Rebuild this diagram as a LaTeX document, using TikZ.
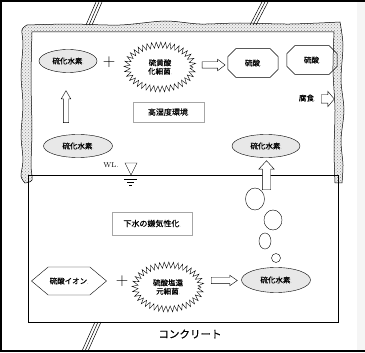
\documentclass[tikz,border=0pt]{standalone}
\usepackage{fontspec}
\newfontfamily\jp{Noto Sans CJK JP}[FakeBold=0.6]
\usepackage{tikz}
\usetikzlibrary{shapes.geometric,shapes.misc,shapes.symbols,shapes.arrows,decorations.pathmorphing,patterns}
\newcommand{\pmk}{{\color{gray!60}\fontsize{4}{4}\selectfont.}}

\begin{document}
\begin{tikzpicture}[x=1pt, y=-1pt,
  lab/.style={font=\jp\fontsize{7.5}{8.5}\selectfont, inner sep=1pt},
  gas/.style={lab, ellipse, draw, fill=gray!18, minimum height=23pt},
  acid/.style={lab, chamfered rectangle, draw, inner xsep=12pt, inner ysep=8pt, chamfered rectangle xsep=5pt},
  ion/.style={lab, signal, draw, signal to=west and east, signal pointer angle=80, minimum width=75pt, minimum height=28pt},
  bact/.style={lab, ellipse, draw, decorate, decoration={zigzag, segment length=4.4pt, amplitude=3pt}, minimum width=66pt, minimum height=44pt, align=center},
  note/.style={font=\jp\fontsize{8}{9}\selectfont, draw=gray!70, minimum height=20pt},
  blk/.style={single arrow, draw, fill=white},
  bub/.style={ellipse, draw, inner sep=0pt},
  plus/.style={font=\fontsize{17}{17}\selectfont, inner sep=0pt}
]
\useasboundingbox (0,0) rectangle (365,353);
% frame
\fill[gray!8] (357,2) rectangle (365,350);
\draw[line width=2pt] (0,1) -- (365,1) (1,0) -- (1,352) (0,351) -- (365,351);

% corroded layer
\draw[preaction={fill=gray!12}, pattern=crosshatch dots, pattern color=gray!90, line width=0.5pt]
  plot[smooth] coordinates {(25,183) (21,176) (23,160) (21,135) (23,105) (21,75) (23,45) (22,30) (27,25)}
  -- plot[smooth] coordinates {(27,25) (70,24) (120,25) (165,21) (200,24) (240,23) (290,24) (340,22)}
  -- plot[smooth] coordinates {(340,22) (343,45) (341,80) (344,110) (341,140) (343,165) (342,183)}
  -- (335,183)
  -- plot[smooth] coordinates {(335,183) (334,150) (335,110) (333,70) (334,32)}
  -- (32,32)
  -- plot[smooth] coordinates {(32,32) (31,80) (32,130) (31,165) (32,180) (25,183)}
  -- cycle;

% sewage
\draw (28,175) rectangle (338,322);

% break marks
\foreach \i in {0,1,2} {
  \draw[line width=0.5pt] (86+\i*3,25) -- (96+\i*3,2);
  \draw[line width=0.5pt] (250+\i*3,25) -- (262+\i*3,2);
  \draw[line width=0.5pt] (95+\i*3,322) -- (82+\i*3,351);
}

% upper space
\node[gas, minimum width=58pt] (h2s1) at (68,61) {硫化水素\pmk};
\node[plus] (plus1) at (109,62) {$+$};
\node[bact] (sob) at (160,67) {硫黄酸\\化細菌\pmk};
\node[blk, inner sep=3pt, minimum height=23pt, single arrow head extend=2.5pt, single arrow tip angle=75] (arr1) at (211.5,65) {};
\node[acid] (acid1) at (253,63) {硫酸\pmk};
\node[acid] (acid2) at (312,60) {硫酸\pmk};
\node[lab] (corr) at (307,98) {腐食\pmk};
\node[blk, inner sep=4pt, minimum height=13pt, single arrow head extend=3.5pt, single arrow tip angle=100] (arr2) at (326,99) {};
\node[note, minimum width=71pt] (humid) at (168.5,112) {高湿度環境\pmk};
\node[blk, shape border rotate=90, inner sep=2.5pt, minimum height=32pt, single arrow head extend=2pt, single arrow tip angle=60] (arr3) at (66,109) {};
\node[gas, minimum width=69pt] (h2s2) at (78,146) {硫化水素\pmk};
\node[gas, minimum width=68pt] (h2s3) at (266,146) {硫化水素\pmk};

% water level
\node[font=\fontsize{7}{7}\selectfont, inner sep=0pt] (wl) at (111,165) {WL.};
\draw (125,163) -- (137,163) -- (131,175) -- cycle;
\draw (124,179) -- (137,179) (127,182) -- (134,182) (129,185) -- (132,185);

% lower space
\node[blk, shape border rotate=90, inner sep=4pt, minimum height=29pt, single arrow head extend=3.5pt, single arrow tip angle=85] (arr4) at (266.5,177.5) {};
\node[bub, minimum width=19pt, minimum height=22pt] (bub1) at (255,199) {};
\node[bub, minimum width=18pt, minimum height=20pt] (bub2) at (273,220) {};
\node[bub, minimum width=12pt, minimum height=16pt] (bub3) at (265,241) {};
\node[bub, minimum width=9pt, minimum height=9pt] (bub4) at (276,258) {};
\node[note, minimum width=80pt, minimum height=23pt] (anaer) at (152,223.5) {下水の嫌気性化\pmk};
\node[ion] (so4) at (69,281) {硫酸イオン\pmk};
\node[plus] (plus2) at (122,281) {$+$};
\node[bact] (srb) at (168,287) {硫酸塩還\\元細菌\pmk};
\node[blk, inner sep=3pt, minimum height=26pt, single arrow head extend=2pt, single arrow tip angle=70] (arr5) at (222,280.5) {};
\node[gas, minimum width=69pt, minimum height=25pt] (h2s4) at (276,280) {硫化水素\pmk};

\node[font=\jp\fontsize{10.5}{11}\selectfont] (conc) at (190,334) {コンクリート};
\end{tikzpicture}
\end{document}
